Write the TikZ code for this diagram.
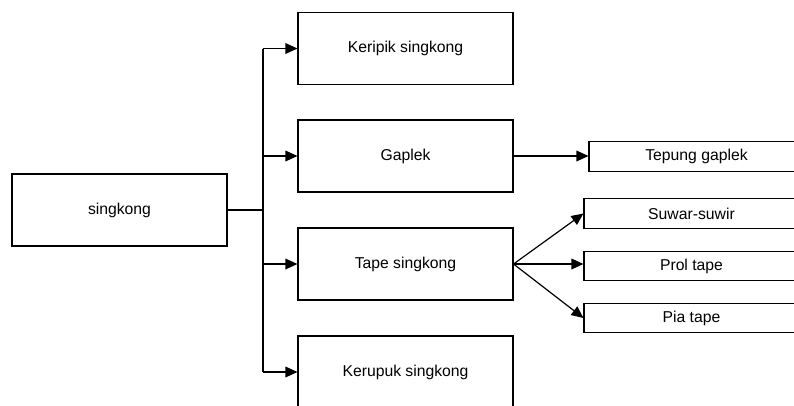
\documentclass[tikz,border=0pt]{standalone}
\usepackage{fontspec}
\setmainfont{Liberation Sans}
\usetikzlibrary{arrows.meta}

\begin{document}
\begin{tikzpicture}[x=0.75pt,y=-0.75pt,
		box/.style={draw,line width=0.8pt,inner sep=0pt,minimum width=161.25pt,minimum height=54pt,font=\fontsize{11.8}{13}\selectfont},
		smallbox/.style={box,minimum height=22pt},
		line/.style={line width=0.9pt},
		arrow/.style={line width=0.9pt,-{Triangle[length=9pt,width=8pt]}}]
		\useasboundingbox (0,0) rectangle (794,405);
		\clip (0,0) rectangle (794,405);
		\node[box] (singkong) at (119.5,210) {singkong};
		\node[box] (keripik) at (405.5,48.5) {Keripik singkong};
		\node[box] (gaplek) at (405.5,156) {Gaplek};
		\node[box] (tape) at (405.5,264) {Tape singkong};
		\node[box] (kerupuk) at (405.5,372) {Kerupuk singkong};
		\node[smallbox] (tepung) at (696.5,156.5) {Tepung gaplek};
		\node[smallbox] (suwar) at (691.5,213.5) {Suwar-suwir};
		\node[smallbox] (prol) at (691.5,266) {Prol tape};
		\node[smallbox] (pia) at (691.5,318) {Pia tape};
		\coordinate (trunk) at (263,210);
		\draw [line] (singkong.east) -- (trunk);
		\draw [line] (trunk |- keripik.west) -- (trunk |- kerupuk.west);
		\draw [arrow] (trunk |- keripik.west) -- (keripik.west);
		\draw [arrow] (trunk |- gaplek.west) -- (gaplek.west);
		\draw [arrow] (trunk |- tape.west) -- (tape.west);
		\draw [arrow] (trunk |- kerupuk.west) -- (kerupuk.west);
		\draw [arrow] (gaplek.east) -- (tepung.west |- gaplek.east);
		\draw [arrow] (tape.east) -- (suwar.west);
		\draw [arrow] (tape.east) -- (prol.west |- tape.east);
		\draw [arrow] (tape.east) -- (pia.west);
	\end{tikzpicture}
\end{document}
